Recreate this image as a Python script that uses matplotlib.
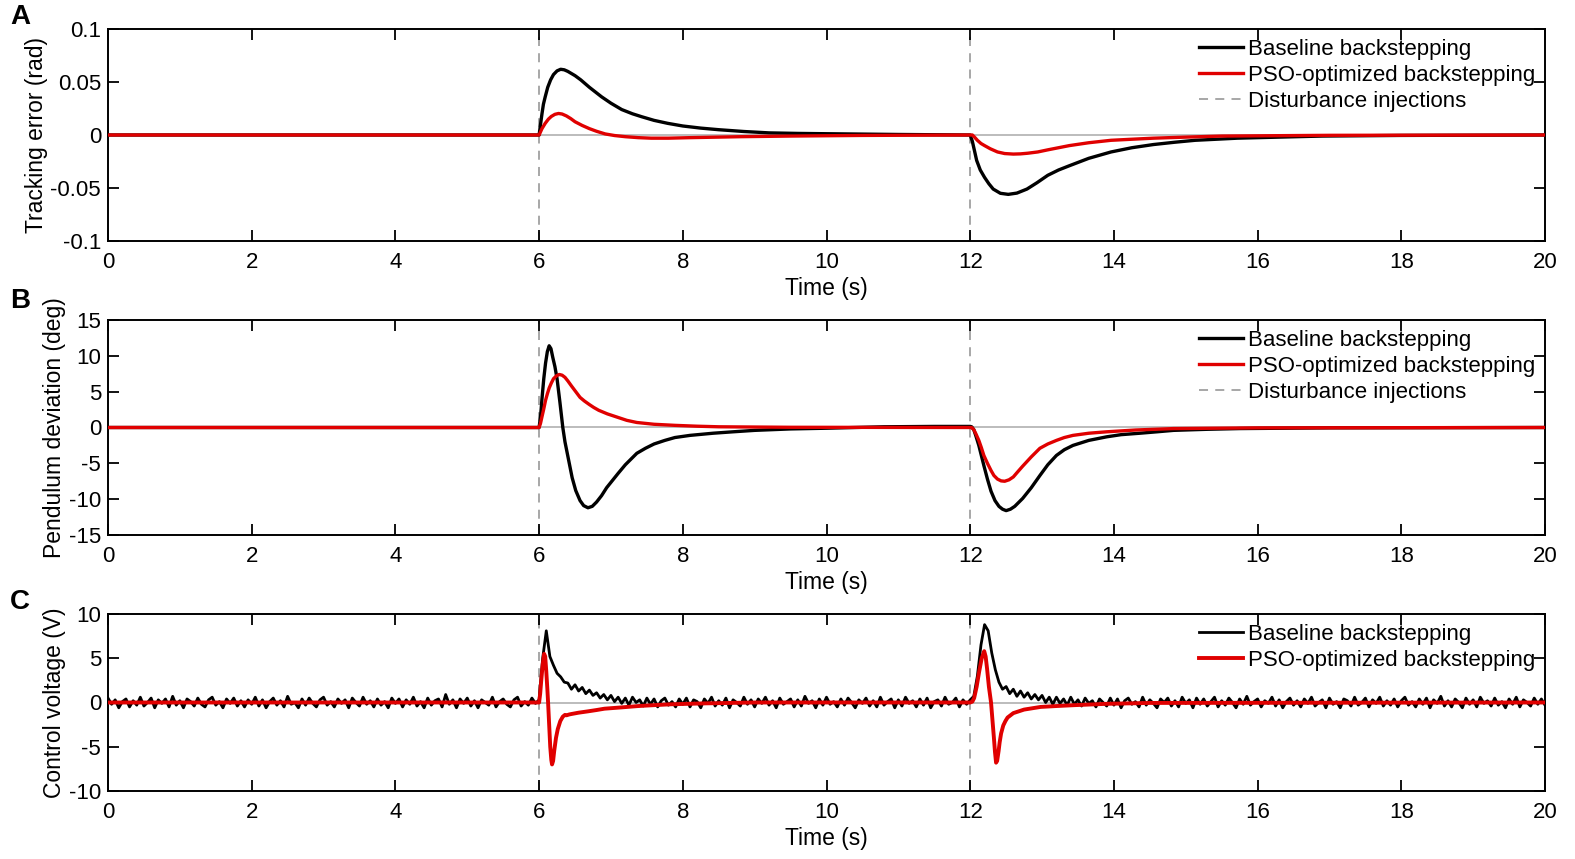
import numpy as np
import matplotlib
matplotlib.use('Agg')
import matplotlib.pyplot as plt

plt.rcParams['axes.unicode_minus'] = False
plt.rcParams['font.family'] = ['Liberation Sans', 'DejaVu Sans']

# ---------------- data ----------------
# A: tracking error (rad)
tA_base = [0, 6.0, 6.02, 6.04, 6.06, 6.085, 6.12, 6.16, 6.20, 6.25, 6.30, 6.35, 6.40, 6.50, 6.58, 6.70, 6.87,
           7.0, 7.15, 7.3, 7.43, 7.6, 7.79, 8.0, 8.25, 8.5, 8.85, 9.2, 9.6, 10.0, 11.0,
           12.0, 12.03, 12.06, 12.09, 12.14, 12.2, 12.26, 12.32, 12.42, 12.53, 12.65, 12.79, 12.93, 13.08,
           13.23, 13.38, 13.65, 13.96, 14.25, 14.55, 14.85, 15.13, 15.72, 16.3, 16.9, 18.0, 20]
eA_base = [0, 0, 0.010, 0.020, 0.029, 0.036, 0.045, 0.052, 0.057, 0.0605, 0.062, 0.0615, 0.060, 0.056, 0.052,
           0.045, 0.036, 0.030, 0.024, 0.020, 0.0172, 0.0138, 0.011, 0.0085, 0.0065, 0.005, 0.0033, 0.002,
           0.0015, 0.0012, 0.0005,
           0, -0.006, -0.015, -0.024, -0.033, -0.040, -0.046, -0.051, -0.055, -0.056, -0.0548, -0.051, -0.045,
           -0.038, -0.033, -0.029, -0.022, -0.016, -0.012, -0.009, -0.0068, -0.005, -0.003, -0.002, -0.001,
           -0.0004, 0]
tA_pso = [0, 6.0, 6.02, 6.04, 6.085, 6.13, 6.17, 6.22, 6.27, 6.32, 6.38, 6.44, 6.5, 6.6, 6.7, 6.8, 6.92,
          7.05, 7.2, 7.38, 7.56, 7.8, 8.1, 8.8, 9.5, 10.5,
          12.0, 12.03, 12.06, 12.1, 12.15, 12.2, 12.28, 12.38, 12.48, 12.6, 12.7, 12.8, 12.94, 13.08, 13.23,
          13.38, 13.65, 13.96, 14.25, 14.55, 15.0, 15.5, 17, 20]
eA_pso = [0, 0, 0.003, 0.006, 0.011, 0.015, 0.0175, 0.0195, 0.0203, 0.0198, 0.018, 0.0155, 0.0125, 0.009,
          0.006, 0.0035, 0.001, -0.0005, -0.0016, -0.0025, -0.003, -0.003, -0.0025, -0.0016, -0.001, -0.0004,
          0, 0, -0.002, -0.005, -0.008, -0.010, -0.013, -0.016, -0.0175, -0.018, -0.0178, -0.0172, -0.016,
          -0.014, -0.012, -0.010, -0.0073, -0.005, -0.004, -0.003, -0.002, -0.001, -0.0003, 0]

# B: pendulum deviation (deg)
tB_base = [0, 6.0, 6.02, 6.04, 6.065, 6.09, 6.115, 6.14, 6.165, 6.19, 6.22, 6.25, 6.29, 6.33, 6.36, 6.40,
           6.46, 6.51, 6.57, 6.62, 6.68, 6.74, 6.80, 6.87, 6.94, 7.02, 7.1, 7.2, 7.36, 7.48, 7.6, 7.75, 7.89,
           8.1, 8.42, 8.7, 9.0, 9.5, 10.0, 10.8, 11.5, 12.0,
           12.02, 12.05, 12.08, 12.12, 12.155, 12.19, 12.24, 12.29, 12.345, 12.40, 12.45, 12.50, 12.56, 12.62,
           12.67, 12.73, 12.85, 12.97, 13.08, 13.2, 13.31, 13.43, 13.65, 13.9, 14.1, 14.36, 14.6, 14.83,
           15.3, 15.75, 17, 20]
dB_base = [0, 0, 1.5, 4.0, 6.8, 9.0, 10.6, 11.4, 11.0, 9.8, 8.5, 6.8, 3.5, 0.0, -2.0, -4.0,
           -7.0, -8.8, -10.2, -10.9, -11.2, -11.0, -10.4, -9.5, -8.4, -7.4, -6.4, -5.2, -3.6, -2.9, -2.3,
           -1.8, -1.4, -1.1, -0.8, -0.6, -0.4, -0.2, -0.1, 0.1, 0.15, 0.15,
           0.1, -0.3, -1.2, -2.5, -3.9, -5.3, -7.2, -8.9, -10.2, -11.0, -11.4, -11.6, -11.4, -11.0,
           -10.5, -9.9, -8.4, -6.7, -5.2, -3.9, -3.1, -2.5, -1.8, -1.3, -1.0, -0.8, -0.6, -0.4,
           -0.25, -0.15, -0.05, 0]
tB_pso = [0, 6.0, 6.02, 6.04, 6.065, 6.09, 6.115, 6.14, 6.17, 6.20, 6.24, 6.28, 6.32, 6.36, 6.40, 6.45,
          6.51, 6.57, 6.63, 6.7, 6.76, 6.83, 6.95, 7.1, 7.22, 7.36, 7.6, 7.89, 8.2, 8.5, 9.5, 12.0,
          12.02, 12.05, 12.08, 12.12, 12.155, 12.19, 12.24, 12.29, 12.33, 12.38, 12.43, 12.48, 12.54, 12.6,
          12.66, 12.73, 12.85, 12.97, 13.08, 13.2, 13.31, 13.43, 13.65, 13.9, 14.3, 14.83, 16, 20]
dB_pso = [0, 0, 0.6, 1.5, 2.6, 3.8, 4.7, 5.5, 6.2, 6.8, 7.2, 7.4, 7.3, 7.0, 6.5, 5.8,
          5.0, 4.2, 3.7, 3.2, 2.8, 2.4, 1.9, 1.4, 1.0, 0.7, 0.45, 0.3, 0.18, 0.1, 0.03, 0,
          0, -0.3, -0.9, -1.8, -2.8, -3.9, -5.0, -6.0, -6.7, -7.2, -7.45, -7.5, -7.3, -6.9,
          -6.2, -5.4, -4.1, -2.9, -2.3, -1.8, -1.4, -1.1, -0.8, -0.6, -0.35, -0.15, -0.05, 0]

# C: control voltage (V), baseline sampled every 0.05 s
vC_base = [
    0.5, -0.2, 0.3, -0.6, 0.1, 0.4, -0.5, 0.2, -0.3, 0.6, -0.4, 0.0, 0.5, -0.6, 0.3, -0.1, 0.4, -0.5, 0.7, -0.3,
    0.2, -0.6, 0.4, 0.1, -0.4, 0.5, -0.2, -0.5, 0.3, 0.6, -0.3, 0.1, -0.6, 0.4, -0.1, 0.5, -0.4, 0.2, -0.5, 0.3,
    -0.2, 0.6, -0.4, 0.3, -0.6, 0.1, 0.5, -0.3, 0.2, -0.5, 0.7, -0.2, 0.0, -0.6, 0.4, -0.3, 0.5, -0.1, -0.5, 0.3,
    0.6, -0.3, 0.1, -0.5, 0.4, -0.1, 0.3, -0.6, 0.5, 0.0, -0.4, 0.6, -0.2, 0.2, -0.5, 0.4, -0.3, 0.1, -0.6, 0.5,
    -0.1, 0.4, -0.5, 0.3, -0.2, 0.6, -0.4, 0.1, -0.6, 0.5, -0.3, 0.2, 0.4, -0.5, 0.9, -0.2, 0.3, -0.6, 0.4, -0.1,
    0.5, -0.4, 0.2, -0.6, 0.3, 0.0, -0.3, 0.6, -0.5, 0.1, 0.4, -0.2, -0.5, 0.3, 0.6, -0.4, 0.1, -0.3, 0.5, -0.1,
    0.3, 5.0, 8.1, 5.2, 4.2, 3.3, 2.9, 2.3, 2.2, 1.5, 2.0, 1.3, 1.7, 1.0, 1.4, 0.8, 1.1, 0.5, 0.9, 0.3,
    0.8, 0.1, 0.6, -0.1, 0.5, -0.3, 0.6, 0.0, 0.3, -0.4, 0.5, -0.2, 0.4, -0.5, 0.2, 0.5, -0.3, 0.1, -0.5, 0.4,
    -0.2, 0.5, -0.5, 0.3, 0.1, -0.6, 0.4, -0.1, 0.6, -0.4, 0.2, -0.3, 0.5, -0.6, 0.3, 0.0, -0.4, 0.6, -0.2, 0.3,
    -0.5, 0.4, -0.1, 0.6, -0.3, 0.2, -0.6, 0.5, -0.2, 0.1, 0.4, -0.5, 0.3, -0.4, 0.7, -0.1, 0.2, -0.6, 0.4, -0.3,
    0.6, -0.2, 0.1, -0.5, 0.4, -0.3, 0.5, 0.0, -0.6, 0.3, -0.1, 0.5, -0.4, 0.2, -0.5, 0.6, -0.3, 0.1, 0.4, -0.6,
    0.3, -0.4, 0.6, -0.1, 0.2, -0.5, 0.4, -0.3, 0.5, -0.6, 0.1, 0.3, -0.4, 0.6, -0.2, 0.0, 0.5, -0.5, 0.3, -0.2,
    0.3, 0.7, 3.0, 6.5, 8.8, 8.1, 5.6, 3.7, 2.3, 1.5, 1.8, 1.0, 1.5, 0.7, 1.3, 0.6, 1.1, 0.4, 0.9, 0.3,
    0.8, 0.0, 0.6, -0.2, 0.6, -0.1, 0.4, -0.3, 0.6, -0.2, 0.3, -0.4, 0.5, -0.1, 0.2, -0.5, 0.4, 0.0, -0.4, 0.5,
    -0.3, 0.4, -0.6, 0.2, 0.5, -0.2, 0.1, -0.5, 0.6, -0.3, 0.3, -0.1, -0.6, 0.4, 0.0, 0.5, -0.4, 0.2, -0.5, 0.6,
    -0.1, 0.3, -0.6, 0.5, -0.2, 0.4, -0.4, 0.1, 0.6, -0.5, 0.2, -0.3, 0.5, 0.0, -0.6, 0.4, -0.2, 0.7, -0.3, 0.1,
    0.4, -0.5, 0.2, -0.1, 0.6, -0.4, 0.3, -0.6, 0.1, 0.5, -0.3, 0.2, -0.5, 0.4, -0.1, 0.6, -0.4, 0.0, 0.3, -0.6,
    0.5, -0.2, 0.1, -0.6, 0.4, 0.2, -0.4, 0.6, -0.3, 0.0, 0.5, -0.5, 0.3, -0.1, 0.6, -0.4, 0.2, -0.3, 0.4, -0.5,
    0.2, 0.6, -0.3, 0.1, -0.5, 0.4, -0.2, 0.5, -0.6, 0.3, -0.1, 0.7, -0.4, 0.2, -0.5, 0.4, 0.0, -0.6, 0.5, -0.2,
    0.3, -0.5, 0.6, -0.1, 0.2, -0.4, 0.5, -0.3, 0.1, -0.6, 0.4, -0.2, 0.6, -0.5, 0.3, 0.0, -0.4, 0.5, -0.2, 0.4,
    -0.3]
tC_base = np.linspace(0, 20, len(vC_base))
tC_pso = [0, 6.0, 6.015, 6.03, 6.05, 6.07, 6.085, 6.10, 6.115, 6.125, 6.14, 6.155, 6.17, 6.18, 6.195, 6.21,
          6.235, 6.26, 6.295, 6.33, 6.36, 6.38, 6.42, 6.45, 6.55, 6.68, 6.8, 6.91, 7.15, 7.38, 7.6, 7.84,
          8.3, 9.0, 12.0,
          12.03, 12.055, 12.09, 12.125, 12.16, 12.195, 12.215, 12.235, 12.26, 12.29, 12.31, 12.33, 12.345,
          12.36, 12.375, 12.395, 12.41, 12.43, 12.46, 12.49, 12.52, 12.6, 12.75, 12.98, 13.2, 13.45, 13.9,
          14.5, 20]
vC_pso = [0, 0, 1.0, 2.5, 4.3, 5.5, 5.2, 3.5, 1.5, 0, -2.5, -5.0, -6.5, -7.0, -6.6, -5.5,
          -4.0, -3.0, -2.1, -1.6, -1.4, -1.45, -1.35, -1.3, -1.15, -1.0, -0.85, -0.7, -0.55, -0.4, -0.3, -0.2,
          -0.1, 0, 0,
          0.1, 0.5, 1.8, 3.5, 5.0, 5.8, 5.2, 3.8, 1.8, 0, -2.0, -4.0, -5.6,
          -6.8, -6.6, -5.5, -4.5, -3.5, -2.6, -2.1, -1.7, -1.2, -0.8, -0.5, -0.4, -0.3, -0.15,
          -0.05, 0]

disturb_times = [6, 12]
x_ticks = list(range(0, 21, 2))
yA_ticks = [-0.1, -0.05, 0, 0.05, 0.1]
yA_labels = ['-0.1', '-0.05', '0', '0.05', '0.1']
yB_ticks = [-15, -10, -5, 0, 5, 10, 15]
yC_ticks = [-10, -5, 0, 5, 10]

# ---------------- figure ----------------
fig = plt.figure(figsize=(15.75, 8.59), dpi=100)
L, W = 108 / 1575, (1545 - 108) / 1575
axA = fig.add_axes([L, 1 - 241 / 859, W, 212 / 859])
axB = fig.add_axes([L, 1 - 535 / 859, W, 215 / 859])
axC = fig.add_axes([L, 1 - 791 / 859, W, 177 / 859])


def style_axes(ax, yticks, ylabels, ylim, ylabel):
    ax.set_xlim(0, 20)
    ax.set_ylim(*ylim)
    ax.axhline(0, color='#b0b0b0', lw=1.2, zorder=1)
    for t in disturb_times:
        ax.axvline(t, color='#a0a0a0', lw=1.3, ls=(0, (5, 4)), zorder=1)
    ax.set_xticks(x_ticks)
    ax.set_xticklabels([str(v) for v in x_ticks], fontsize=16)
    ax.set_yticks(yticks)
    ax.set_yticklabels(ylabels, fontsize=16)
    ax.tick_params(axis='x', pad=8)
    ax.tick_params(axis='y', pad=5)
    ax.tick_params(direction='in', length=8, width=1.3, top=True, right=True)
    for s in ax.spines.values():
        s.set_linewidth(1.4)
    ax.set_ylabel(ylabel, fontsize=16.5, labelpad=2)
    ax.set_xlabel('Time (s)', fontsize=16.5, labelpad=3)


style_axes(axA, yA_ticks, yA_labels, (-0.1, 0.1), 'Tracking error (rad)')
style_axes(axB, yB_ticks, [str(v) for v in yB_ticks], (-15, 15), 'Pendulum deviation (deg)')
style_axes(axC, yC_ticks, [str(v) for v in yC_ticks], (-10, 10), 'Control voltage (V)')

for ax, tb, yb, tp, yp in [(axA, tA_base, eA_base, tA_pso, eA_pso),
                           (axB, tB_base, dB_base, tB_pso, dB_pso)]:
    ax.plot(tb, yb, color='black', lw=2.4, label='Baseline backstepping', zorder=3)
    ax.plot(tp, yp, color='#e00000', lw=2.4, label='PSO-optimized backstepping', zorder=4)
    ax.plot([], [], color='#a0a0a0', lw=1.3, ls=(0, (5, 4)), label='Disturbance injections')

axC.plot(tC_base, vC_base, color='black', lw=2.0, label='Baseline backstepping', zorder=3)
axC.plot(tC_pso, vC_pso, color='#e00000', lw=2.8, label='PSO-optimized backstepping', zorder=4)

for ax in (axA, axB, axC):
    ax.legend(loc='upper right', frameon=False, fontsize=16, handlelength=2.0,
              handletextpad=0.2, labelspacing=0.22, borderaxespad=0.2, borderpad=0.25)

for letter, y in [('A', 17), ('B', 301), ('C', 602)]:
    fig.text(10 / 1575, 1 - y / 859, letter, fontsize=20, fontweight='bold', va='center', ha='left')

fig.savefig('out.png', dpi=100)
